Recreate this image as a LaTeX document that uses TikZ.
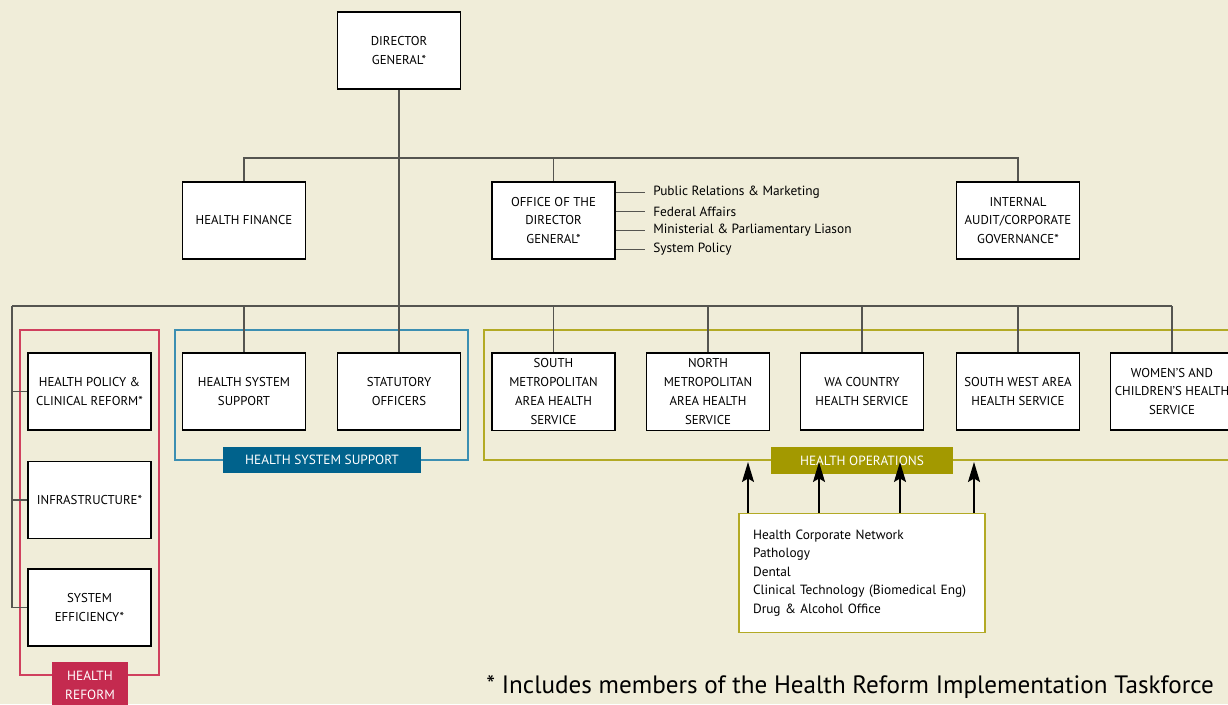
\documentclass[tikz,border=0pt]{standalone}
\usepackage{fontspec}
\setmainfont{PT Sans}
\usetikzlibrary{arrows.meta, positioning, calc}
\definecolor{pagecream}{HTML}{F0EDD9}
\definecolor{reformred}{HTML}{C42A4F}
\definecolor{reformframe}{HTML}{D0405E}
\definecolor{supportblue}{HTML}{00628C}
\definecolor{supportframe}{HTML}{3C8FB2}
\definecolor{opsolive}{HTML}{A39900}
\definecolor{opsframe}{HTML}{B3AA25}
\definecolor{linkgrey}{HTML}{555550}

\begin{document}
\begin{tikzpicture}[x=0.02cm, y=-0.02cm,
  unit/.style={rectangle, draw=black, line width=1.1pt, fill=white, minimum width=2.46cm, minimum height=1.54cm, align=center, inner xsep=1pt, font=\fontsize{7.3}{10.8}\selectfont},
  link/.style={draw=linkgrey, line width=0.8pt},
  tag/.style={text=white, inner sep=0pt, align=center, font=\fontsize{7.6}{10.8}\selectfont},
  item/.style={anchor=west, inner xsep=4.5pt, inner ysep=0pt, font=\fontsize{7.6}{10.8}\selectfont},
  uparrow/.style={-{Stealth[length=4mm, width=2.4mm, inset=0.7mm]}, line width=0.8pt, draw=black}
]
  \useasboundingbox[fill=pagecream] (0,0) rectangle (1228,704);

  % top levels
  \node[unit] (dg) at (399,50.5) {DIRECTOR\\GENERAL*};
  \node[unit] (finance) at (244,220.5) {HEALTH FINANCE};
  \node[unit] (office) at (553.5,220.5) {OFFICE OF THE\\DIRECTOR\\GENERAL*};
  \node[unit] (audit) at (1018,220.5) {INTERNAL\\AUDIT/CORPORATE\\GOVERNANCE*};

  \node[item] (pr) at (645,192.5) {Public Relations \& Marketing};
  \node[item] (federal) at (645,211.5) {Federal Affairs};
  \node[item] (ministerial) at (645,230.5) {Ministerial \& Parliamentary Liason};
  \node[item] (syspolicy) at (645,249.5) {System Policy};

  % health reform
  \node[unit] (policy) at (89.5,391.5) {HEALTH POLICY \&\\CLINICAL REFORM*};
  \node[unit] (infra) at (89.5,500) {INFRASTRUCTURE*};
  \node[unit] (efficiency) at (89.5,607.5) {SYSTEM\\EFFICIENCY*};

  % health system support
  \node[unit] (hss) at (244,391.5) {HEALTH SYSTEM\\SUPPORT};
  \node[unit] (statutory) at (399,391.5) {STATUTORY\\OFFICERS};

  % health operations
  \node[unit] (southmetro) at (553.5,391.5) {SOUTH\\METROPOLITAN\\AREA HEALTH\\SERVICE};
  \node[unit] (northmetro) at (708,391.5) {NORTH\\METROPOLITAN\\AREA HEALTH\\SERVICE};
  \node[unit] (wacountry) at (862,391.5) {WA COUNTRY\\HEALTH SERVICE};
  \node[unit] (southwest) at (1018,391.5) {SOUTH WEST AREA\\HEALTH SERVICE};
  \node[unit] (womens) at (1172,391.5) {WOMEN’S AND\\CHILDREN’S HEALTH\\SERVICE};

  % group frames
  \draw[reformframe, line width=0.8pt] (20,330) rectangle (159,675);
  \draw[supportframe, line width=0.8pt] (175,330) rectangle (468,460);
  \draw[opsframe, line width=0.8pt] (484,330) rectangle (1260,460);

  \node[tag, fill=reformred, minimum width=1.52cm, minimum height=0.94cm] (reformtag) at (90,685) {HEALTH\\REFORM};
  \node[tag, fill=supportblue, minimum width=3.96cm, minimum height=0.52cm] (supporttag) at (322,460) {HEALTH SYSTEM SUPPORT};
  \node[tag, fill=opsolive, minimum width=3.64cm, minimum height=0.54cm] (opstag) at (862,460.5) {HEALTH OPERATIONS};

  % shared services
  \node[draw=opsframe, line width=0.9pt, fill=white, minimum width=4.92cm, minimum height=2.38cm, text width=4.36cm, inner xsep=0.28cm, align=left, font=\fontsize{7.6}{10.5}\selectfont] (shared) at (862,573)
    {Health Corporate Network\\Pathology\\Dental\\Clinical Technology (Biomedical Eng)\\Drug \& Alcohol Office};

  \node[anchor=west, inner sep=0pt, font=\fontsize{14.3}{17}\selectfont] (note) at (486,687) {* Includes members of the Health Reform Implementation Taskforce};

  % connectors
  \coordinate (topbar) at (399,158);
  \coordinate (lowbar) at (399,306);
  \coordinate (leftdrop) at (12,306);

  \draw[link] (dg.south) -- (lowbar);
  \draw[link] (finance.north) -- (finance.north |- topbar) -| (audit.north);
  \draw[link] (office.north) -- (office.north |- topbar);
  \draw[link] (leftdrop) -- (womens.north |- lowbar);
  \foreach \n in {hss, statutory, southmetro, northmetro, wacountry, southwest, womens}
    \draw[link] (\n.north) -- (\n.north |- lowbar);
  \draw[link] (leftdrop) |- (efficiency.west);
  \foreach \n in {policy, infra}
    \draw[link] (\n.west) -- (\n.west -| leftdrop);
  \foreach \n in {pr, federal, ministerial, syspolicy}
    \draw[link] (office.east |- \n.west) -- (\n.west);

  \coordinate (tipa) at (748,462);
  \coordinate (tipb) at (819,462);
  \coordinate (tipc) at (900,462);
  \coordinate (tipd) at (974,462);
  \foreach \t in {tipa, tipb, tipc, tipd}
    \draw[uparrow] (shared.north -| \t) -- (\t);
\end{tikzpicture}
\end{document}
